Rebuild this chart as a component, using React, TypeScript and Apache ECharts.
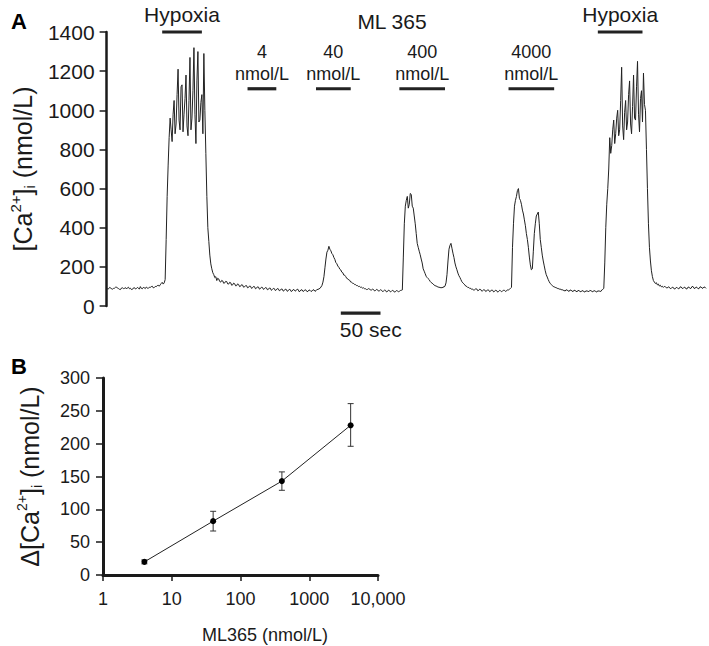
import React, { useEffect, useRef } from "react";
import * as echarts from "echarts";

// ---------- Panel A data ----------
// [Ca2+]i trace (nmol/L), one sample every 1.25 s
const TRACE_STEP_SEC = 1.25;
const traceCa = [
  92, 86, 88, 95, 93, 87, 86, 90, 91, 96, 97, 91, 89, 85, 84, 92, 93, 89, 90, 94,
  87, 93, 96, 88, 91, 84, 85, 92, 94, 87, 89, 95, 92, 86, 99, 90, 88, 95, 93, 89,
  97, 92, 90, 96, 95, 99, 101, 93, 94, 100, 99, 104, 106, 101, 108, 115, 121, 112, 118, 135,
  340, 560, 720, 860, 960, 900, 840, 980, 1050, 880, 930, 1080, 1210, 950, 900, 1120, 1130, 890, 980, 1060,
  1180, 920, 870, 1050, 1270, 900, 960, 1100, 1320, 980, 830, 1150, 1300, 940, 950, 1040, 1080, 880, 1290, 1000,
  780, 560, 400, 330, 260, 215, 190, 170, 160, 145, 150, 130, 142, 138, 125, 122, 131, 128, 116, 118,
  126, 125, 113, 112, 121, 119, 106, 108, 117, 114, 103, 104, 113, 110, 99, 101, 109, 107, 96, 98,
  104, 104, 93, 95, 102, 101, 90, 93, 100, 99, 88, 91, 98, 97, 86, 89, 96, 95, 85, 88,
  94, 93, 83, 85, 92, 91, 80, 84, 90, 89, 79, 82, 89, 88, 78, 80, 87, 86, 76, 79,
  86, 85, 75, 78, 85, 84, 74, 77, 84, 83, 76, 79, 86, 84, 73, 76, 83, 82, 74, 78,
  83, 81, 73, 75, 82, 80, 74, 77, 83, 82, 75, 78, 85, 84, 88, 90, 97, 105, 122, 150,
  195, 240, 275, 285, 305, 290, 282, 268, 262, 248, 238, 222, 216, 204, 198, 188, 184, 173, 170, 158,
  157, 150, 141, 139, 133, 131, 122, 121, 116, 115, 109, 109, 104, 104, 99, 100, 95, 96, 91, 93,
  88, 88, 84, 85, 89, 87, 81, 82, 86, 84, 77, 79, 85, 83, 76, 78, 83, 81, 74, 76,
  81, 80, 72, 74, 81, 79, 72, 75, 80, 78, 71, 73, 79, 77, 73, 75, 79, 80, 82, 250,
  420, 510, 540, 560, 500, 520, 575, 570, 510, 500, 460, 420, 370, 320, 300, 280, 262, 240, 220, 190,
  178, 165, 152, 145, 140, 135, 126, 120, 117, 112, 107, 104, 102, 100, 96, 97, 93, 95, 92, 98,
  96, 102, 118, 160, 230, 290, 310, 320, 295, 270, 248, 220, 200, 185, 168, 155, 146, 135, 124, 118,
  113, 108, 101, 100, 94, 95, 89, 90, 85, 86, 81, 83, 88, 87, 78, 80, 86, 84, 76, 78,
  83, 82, 74, 77, 83, 81, 73, 76, 82, 80, 72, 75, 81, 79, 71, 74, 80, 78, 73, 76,
  81, 80, 74, 77, 83, 82, 86, 90, 95, 300, 420, 510, 540, 560, 590, 600, 550, 540, 520, 490,
  470, 440, 410, 370, 340, 300, 250, 210, 185, 190, 280, 370, 420, 460, 470, 480, 420, 340, 300, 260,
  230, 205, 180, 160, 148, 135, 124, 115, 110, 105, 100, 98, 95, 94, 90, 90, 86, 87, 83, 84,
  80, 80, 76, 83, 81, 78, 74, 82, 80, 77, 73, 81, 79, 76, 72, 80, 78, 75, 72, 79,
  77, 74, 71, 78, 76, 76, 73, 80, 78, 75, 72, 79, 77, 74, 71, 78, 76, 76, 74, 82,
  85, 90, 220, 400, 520, 600, 700, 860, 780, 820, 900, 950, 830, 880, 960, 1000, 870, 900, 1050, 1220,
  920, 850, 990, 1050, 900, 940, 1080, 1150, 930, 880, 1020, 1180, 960, 950, 1120, 1250, 980, 890, 1060, 1100,
  940, 1190, 1030, 1000, 800, 600, 420, 300, 230, 180, 150, 130, 122, 115, 119, 108, 112, 102, 106, 98,
  101, 95, 100, 99, 93, 92, 98, 96, 89, 90, 96, 95, 87, 88, 95, 94, 88, 89, 98, 97,
  90, 90, 96, 95, 87, 88, 97, 96, 89, 91, 100, 99, 90, 90, 97, 95, 88, 89, 98, 97,
  91, 91, 97, 96, 90,
];

// Treatment periods (seconds) and the level (nmol/L) at which each bar is drawn
const periodLabels = [["Hypoxia"], ["4", "nmol/L"], ["40", "nmol/L"], ["400", "nmol/L"], ["4000", "nmol/L"], ["Hypoxia"]];
const periodStart = [70, 177.5, 263.75, 368.75, 506.25, 618.75];
const periodEnd = [120, 213.75, 307.5, 426.25, 563.75, 675];
const periodLevel = [1400, 1110, 1110, 1110, 1110, 1400];

// 50 s scale bar
const scaleBarLabel = "50 sec";
const scaleBarStart = 295;
const scaleBarEnd = 345;
const scaleBarLevel = -36;

// ---------- Panel B data ----------
const doseNm = [4, 40, 400, 4000];
const deltaCaMean = [20, 82, 143, 228];
const deltaCaLow = [17, 67, 129, 196];
const deltaCaHigh = [23, 97, 157, 261];

const FONT = "'Liberation Sans', Arial, Helvetica, sans-serif";
const INK = "#1a1a1a";

export default function App() {
  const ref = useRef<HTMLDivElement>(null);

  useEffect(() => {
    if (!ref.current) return;
    const chart = echarts.init(ref.current, undefined, { renderer: "svg" });

    const traceData = traceCa.map((v, i) => [i * TRACE_STEP_SEC, v]);
    const tMax = (traceCa.length - 1) * TRACE_STEP_SEC;

    const periodData = periodStart.map((s, i) => [s, periodEnd[i], periodLevel[i]]);

    const option: any = {
      animation: false,
      backgroundColor: "#ffffff",
      textStyle: { fontFamily: FONT },
      grid: [
        { left: 102, top: 32, width: 604, height: 274 },
        { left: 103, top: 378, width: 275, height: 197 },
      ],
      xAxis: [
        {
          gridIndex: 0,
          type: "value",
          min: 0,
          max: tMax,
          show: false,
        },
        {
          gridIndex: 1,
          type: "log",
          logBase: 10,
          min: 1,
          max: 10000,
          axisLine: { show: true, lineStyle: { color: INK, width: 3 } },
          axisTick: { show: true, inside: false, length: 6, lineStyle: { color: INK, width: 1.5 } },
          minorTick: { show: false },
          splitLine: { show: false },
          axisLabel: {
            margin: 15,
            fontSize: 18,
            fontFamily: FONT,
            color: INK,
            formatter: (v: number) => (v >= 10000 ? "10,000" : String(Math.round(v))),
          },
        },
      ],
      yAxis: [
        {
          gridIndex: 0,
          type: "value",
          min: 0,
          max: 1400,
          interval: 200,
          axisLine: { show: true, lineStyle: { color: INK, width: 2.5 } },
          axisTick: { show: true, inside: false, length: 7, lineStyle: { color: INK, width: 1.5 } },
          splitLine: { show: false },
          axisLabel: {
            margin: 12,
            fontSize: 21,
            fontFamily: FONT,
            color: INK,
            formatter: (v: number) => String(v),
          },
          name: "{n|[Ca}{sup|2+}{n|]}{sub|i}{n| (nmol/L)}",
          nameLocation: "middle",
          nameGap: 64,
          nameTextStyle: {
            color: INK,
            fontFamily: FONT,
            fontSize: 25,
            rich: {
              n: { fontSize: 25, fontFamily: FONT, color: INK, lineHeight: 29 },
              sup: { fontSize: 15, fontFamily: FONT, color: INK, verticalAlign: "top", lineHeight: 29 },
              sub: { fontSize: 15, fontFamily: FONT, color: INK, verticalAlign: "bottom", lineHeight: 29 },
            },
          },
        },
        {
          gridIndex: 1,
          type: "value",
          min: 0,
          max: 300,
          interval: 50,
          axisLine: { show: true, lineStyle: { color: INK, width: 3 } },
          axisTick: { show: true, inside: false, length: 7, lineStyle: { color: INK, width: 1.5 } },
          splitLine: { show: false },
          axisLabel: { margin: 13, fontSize: 18, fontFamily: FONT, color: INK },
          name: "{n|Δ[Ca}{sup|2+}{n|]}{sub|i}{n| (nmol/L)}",
          nameLocation: "middle",
          nameGap: 59,
          nameTextStyle: {
            color: INK,
            fontFamily: FONT,
            fontSize: 25,
            rich: {
              n: { fontSize: 25, fontFamily: FONT, color: INK, lineHeight: 29 },
              sup: { fontSize: 14, fontFamily: FONT, color: INK, verticalAlign: "top", lineHeight: 29 },
              sub: { fontSize: 14, fontFamily: FONT, color: INK, verticalAlign: "bottom", lineHeight: 29 },
            },
          },
        },
      ],
      graphic: [
        { type: "text", x: 19, y: 21, style: { text: "A", font: `bold 22px ${FONT}`, fill: "#000", align: "center", verticalAlign: "middle" } },
        { type: "text", x: 19, y: 366, style: { text: "B", font: `bold 22px ${FONT}`, fill: "#000", align: "center", verticalAlign: "middle" } },
        { type: "text", x: 392, y: 21, style: { text: "ML 365", font: `21px ${FONT}`, fill: INK, align: "center", verticalAlign: "middle" } },
        { type: "text", x: 265, y: 635, style: { text: "ML365 (nmol/L)", font: `18px ${FONT}`, fill: INK, align: "center", verticalAlign: "middle" } },
      ],
      series: [
        {
          type: "line",
          xAxisIndex: 0,
          yAxisIndex: 0,
          data: traceData,
          showSymbol: false,
          symbol: "none",
          lineStyle: { color: "#222", width: 1 },
          silent: true,
        },
        {
          type: "custom",
          xAxisIndex: 0,
          yAxisIndex: 0,
          clip: false,
          silent: true,
          data: periodData,
          encode: { x: [0, 1], y: 2 },
          renderItem: (params: any, api: any) => {
            const p1 = api.coord([api.value(0), api.value(2)]);
            const p2 = api.coord([api.value(1), api.value(2)]);
            const cx = (p1[0] + p2[0]) / 2;
            const lines = periodLabels[params.dataIndex];
            const single = lines.length === 1;
            const children: any[] = [
              { type: "line", shape: { x1: p1[0], y1: p1[1], x2: p2[0], y2: p2[1] }, style: { stroke: "#222", lineWidth: 3.2 } },
            ];
            lines.forEach((t, k) => {
              children.push({
                type: "text",
                style: {
                  text: t,
                  x: cx,
                  y: p1[1] - (single ? 18 : 15) - (lines.length - 1 - k) * 22,
                  align: "center",
                  verticalAlign: "middle",
                  font: `${single ? 21 : 18}px ${FONT}`,
                  fill: INK,
                },
              });
            });
            return { type: "group", children };
          },
        },
        {
          type: "custom",
          xAxisIndex: 0,
          yAxisIndex: 0,
          clip: false,
          silent: true,
          data: [[scaleBarStart, scaleBarEnd, scaleBarLevel]],
          encode: { x: [0, 1], y: 2 },
          renderItem: (_params: any, api: any) => {
            const p1 = api.coord([api.value(0), api.value(2)]);
            const p2 = api.coord([api.value(1), api.value(2)]);
            return {
              type: "group",
              children: [
                { type: "line", shape: { x1: p1[0], y1: p1[1], x2: p2[0], y2: p2[1] }, style: { stroke: "#222", lineWidth: 3.2 } },
                {
                  type: "text",
                  style: { text: scaleBarLabel, x: p1[0] - 1, y: p1[1] + 16, align: "left", verticalAlign: "middle", font: `21px ${FONT}`, fill: INK },
                },
              ],
            };
          },
        },
        {
          type: "custom",
          xAxisIndex: 1,
          yAxisIndex: 1,
          silent: true,
          clip: false,
          data: doseNm.map((x, i) => [x, deltaCaLow[i], deltaCaHigh[i]]),
          encode: { x: 0, y: [1, 2] },
          renderItem: (_params: any, api: any) => {
            const lo = api.coord([api.value(0), api.value(1)]);
            const hi = api.coord([api.value(0), api.value(2)]);
            const w = 3;
            const st = { stroke: "#333", lineWidth: 1 };
            return {
              type: "group",
              children: [
                { type: "line", shape: { x1: lo[0], y1: lo[1], x2: hi[0], y2: hi[1] }, style: st },
                { type: "line", shape: { x1: lo[0] - w, y1: lo[1], x2: lo[0] + w, y2: lo[1] }, style: st },
                { type: "line", shape: { x1: hi[0] - w, y1: hi[1], x2: hi[0] + w, y2: hi[1] }, style: st },
              ],
            };
          },
        },
        {
          type: "line",
          xAxisIndex: 1,
          yAxisIndex: 1,
          data: doseNm.map((x, i) => [x, deltaCaMean[i]]),
          symbol: "circle",
          symbolSize: 6,
          showSymbol: true,
          itemStyle: { color: "#000" },
          lineStyle: { color: "#222", width: 1 },
          silent: true,
          z: 5,
        },
      ],
    };

    chart.setOption(option);
    return () => {
      chart.dispose();
    };
  }, []);

  return (
    <div
      ref={ref}
      style={{ position: "absolute", left: 0, top: 0, width: 709, height: 646, background: "#fff" }}
    />
  );
}
